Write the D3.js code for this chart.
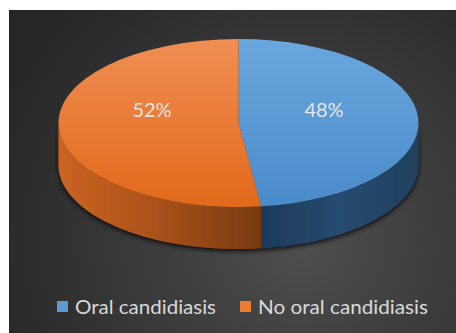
<!DOCTYPE html>
<html>
<head>
<meta charset="utf-8">
<script src="https://cdn.jsdelivr.net/npm/d3@7"></script>
<style>
  body { margin: 0; background: #fff; }
  svg { display: block; }
</style>
</head>
<body>
<script>
// size of the whole picture
var width = 456;
var height = 333;

// chart data
var categories = ["Oral candidiasis", "No oral candidiasis"];
var values = [48, 52];
var labels = ["48%", "52%"];

var topColors = [["#6ba7de", "#4a8bcb"], ["#f08e53", "#e2691a"]];
var sideColors = [["#1d3a59", "#264b70", "#21405f"], ["#cb6421", "#a9511a", "#783a10"]];
var legendColors = ["#5b9bd5", "#ed7d31"];

// ellipse geometry of the pie
var cx = 238.5, cy = 123, rx = 180, ry = 84, depth = 42;

var svg = d3.select("body")
    .append("svg")
    .attr("width", width)
    .attr("height", height);

var defs = svg.append("defs");

// dark panel background
var bg = defs.append("radialGradient")
    .attr("id", "bg")
    .attr("gradientUnits", "userSpaceOnUse")
    .attr("cx", 300).attr("cy", 240).attr("r", 330);
bg.append("stop").attr("offset", "0%").attr("stop-color", "#4e4e4e");
bg.append("stop").attr("offset", "100%").attr("stop-color", "#262626");

svg.append("rect")
    .attr("x", 9).attr("y", 10)
    .attr("width", width - 9).attr("height", height - 10)
    .attr("fill", "url(#bg)");

topColors.forEach(function(c, i) {
  var gr = defs.append("linearGradient")
      .attr("id", "top" + i)
      .attr("x1", 0).attr("y1", 0).attr("x2", 0).attr("y2", 1);
  gr.append("stop").attr("offset", "0%").attr("stop-color", c[0]);
  gr.append("stop").attr("offset", "100%").attr("stop-color", c[1]);
});
sideColors.forEach(function(c, i) {
  var gr = defs.append("linearGradient")
      .attr("id", "side" + i)
      .attr("x1", 0).attr("y1", 0).attr("x2", 1).attr("y2", 0);
  gr.append("stop").attr("offset", "0%").attr("stop-color", c[0]);
  gr.append("stop").attr("offset", "50%").attr("stop-color", c[1]);
  gr.append("stop").attr("offset", "100%").attr("stop-color", c[2]);
});

var shadow = defs.append("filter").attr("id", "shadow")
    .attr("x", "-10%").attr("y", "-10%").attr("width", "120%").attr("height", "130%");
shadow.append("feDropShadow")
    .attr("dx", 0).attr("dy", 2).attr("stdDeviation", 2.5)
    .attr("flood-color", "#000").attr("flood-opacity", 0.85);

var pie = d3.pie().sort(null).value(function(d) { return d; });
var slices = pie(values);

function pt(a, dy) {
  return [cx + rx * Math.sin(a), cy - ry * Math.cos(a) + dy];
}

// front wall of a slice, clipped to the visible half (90deg .. 270deg)
function wallPath(d) {
  var a0 = Math.max(d.startAngle, Math.PI / 2);
  var a1 = Math.min(d.endAngle, Math.PI * 1.5);
  if (a1 <= a0) return null;
  var steps = d3.range(0, 41).map(function(k) { return a0 + (a1 - a0) * k / 40; });
  var topPts = steps.map(function(a) { return pt(a, 0); });
  var botPts = steps.slice().reverse().map(function(a) { return pt(a, depth); });
  return d3.line()(topPts.concat(botPts)) + "Z";
}

var walls = svg.append("g").attr("filter", "url(#shadow)");
walls.selectAll("path")
    .data(slices)
    .enter()
    .append("path")
    .attr("d", wallPath)
    .attr("fill", function(d, i) { return "url(#side" + i + ")"; });

// top faces: circle arcs squashed into the ellipse
var arc = d3.arc().innerRadius(0).outerRadius(rx);
var topFace = svg.append("g")
    .attr("transform", "translate(" + cx + "," + cy + ") scale(1," + (ry / rx) + ")");
topFace.selectAll("path")
    .data(slices)
    .enter()
    .append("path")
    .attr("d", arc)
    .attr("fill", function(d, i) { return "url(#top" + i + ")"; });

// percentage labels
var labelPos = [[324, 117], [152, 117]];
svg.selectAll(".pct")
    .data(labels)
    .enter()
    .append("text")
    .attr("class", "pct")
    .attr("x", function(d, i) { return labelPos[i][0]; })
    .attr("y", function(d, i) { return labelPos[i][1]; })
    .attr("text-anchor", "middle")
    .attr("font-family", "Lato, sans-serif")
    .attr("font-size", 20)
    .attr("fill", "#e6e6e6")
    .text(function(d) { return d; });

// legend
var legendX = [57, 240];
var legendW = [141, 170];
var lg = svg.selectAll(".legend")
    .data(categories)
    .enter()
    .append("g")
    .attr("class", "legend")
    .attr("transform", function(d, i) { return "translate(" + legendX[i] + ",301)"; });
lg.append("rect")
    .attr("width", 11).attr("height", 11)
    .attr("fill", function(d, i) { return legendColors[i]; });
lg.append("text")
    .attr("x", 18).attr("y", 13)
    .attr("font-family", "Lato, sans-serif")
    .attr("font-size", 20)
    .attr("textLength", function(d, i) { return legendW[i]; })
    .attr("lengthAdjust", "spacingAndGlyphs")
    .attr("fill", "#d9d9d9")
    .text(function(d) { return d; });
</script>
</body>
</html>
